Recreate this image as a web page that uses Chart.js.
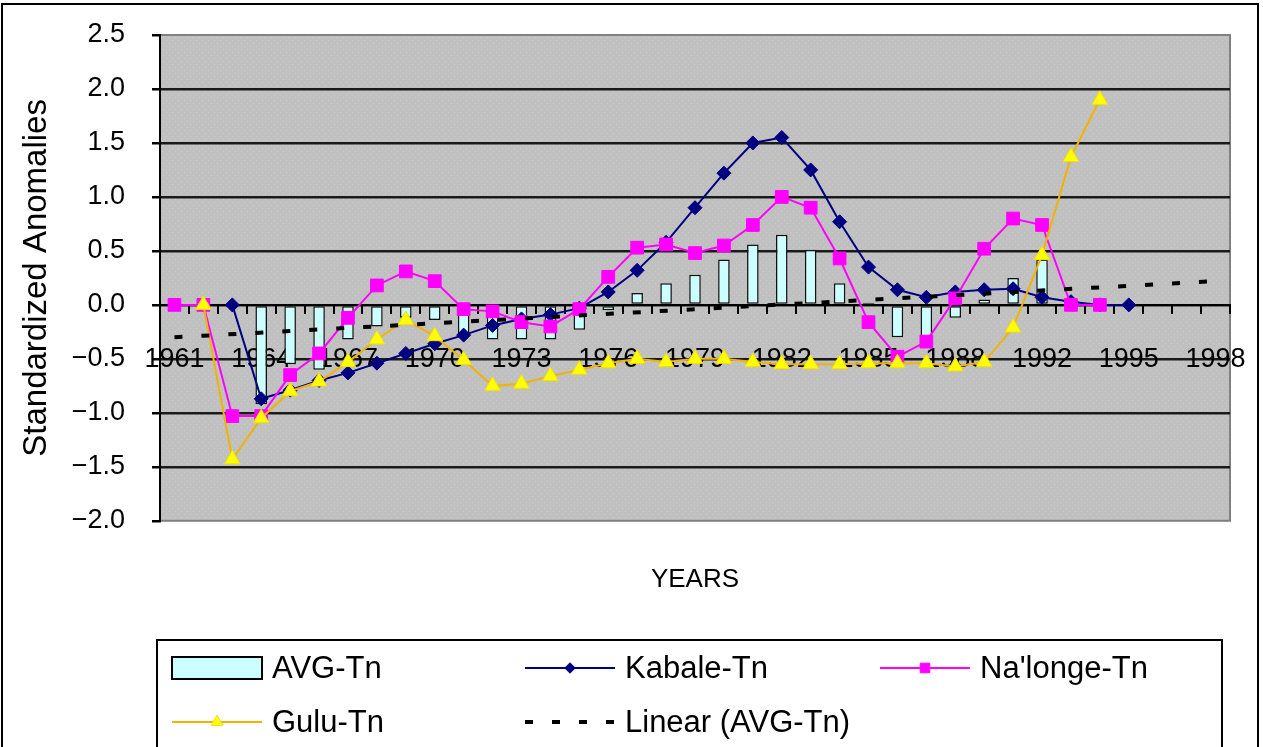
<!DOCTYPE html>
<html>
<head>
<meta charset="utf-8">
<title>Standardized Anomalies - Tn</title>
<script src="https://cdn.jsdelivr.net/npm/chart.js@4.4.1/dist/chart.umd.min.js"></script>
<style>
  html, body { margin: 0; padding: 0; background: #fff; overflow: hidden; }
  #wrap { position: relative; width: 1263px; height: 747px; }
  #frame { position: absolute; left: 1px; top: 3px; width: 1254px; height: 800px; border: 2px solid #000; pointer-events: none; }
  canvas { display: block; }
</style>
</head>
<body>
<div id="wrap">
  <canvas id="chart" width="1263" height="747"></canvas>
  <div id="frame"></div>
</div>
<script>
// Years on the category axis (1990 is not in the series)
const years = [
  '1961', '1962', '1963', '1964', '1965', '1966', '1967', '1968', '1969', '1970',
  '1971', '1972', '1973', '1974', '1975', '1976', '1977', '1978', '1979', '1980',
  '1981', '1982', '1983', '1984', '1985', '1986', '1987', '1988', '1989', '1991',
  '1992', '1993', '1994', '1995', '1996', '1997', '1998'
];

// Standardized anomalies of minimum temperature
const avgTn = [null, null, null, -0.92, -0.55, -0.60, -0.32, -0.20, -0.12, -0.14,
  -0.30, -0.32, -0.32, -0.32, -0.23, -0.05, 0.11, 0.20, 0.28, 0.42,
  0.56, 0.65, 0.51, 0.20, 0.02, -0.30, -0.30, -0.12, 0.05, 0.25,
  0.42, null, null, null, null, null, null];

const kabaleTn = [null, null, 0.00, -0.87, -0.79, -0.70, -0.63, -0.54, -0.45, -0.36,
  -0.28, -0.19, -0.13, -0.09, -0.03, 0.12, 0.32, 0.58, 0.90, 1.22,
  1.50, 1.55, 1.25, 0.77, 0.35, 0.14, 0.07, 0.12, 0.14, 0.15,
  0.07, 0.03, 0.00, 0.00, null, null, null];

const nalongeTn = [0.00, 0.00, -1.03, -1.03, -0.65, -0.45, -0.12, 0.18, 0.31, 0.22,
  -0.04, -0.06, -0.16, -0.20, -0.04, 0.26, 0.53, 0.56, 0.48, 0.55,
  0.74, 1.00, 0.90, 0.43, -0.16, -0.48, -0.34, 0.06, 0.52, 0.80,
  0.74, 0.00, 0.00, null, null, null, null];

const guluTn = [null, 0.00, -1.43, -1.05, -0.80, -0.71, -0.53, -0.32, -0.14, -0.29,
  -0.51, -0.75, -0.73, -0.66, -0.60, -0.54, -0.50, -0.53, -0.50, -0.50,
  -0.53, -0.55, -0.55, -0.55, -0.54, -0.54, -0.54, -0.57, -0.53, -0.21,
  0.46, 1.37, 1.90, null, null, null, null];

// Linear trend of AVG-Tn, its two ends
const trendYears = ['1961', '1998'];
const trendValues = [-0.30, 0.22];

const FONT = '"Liberation Sans", Arial, sans-serif';
Chart.defaults.font.family = FONT;
Chart.defaults.color = '#000';

// grey dotted fill of the plot area
function dottedPattern(ctx) {
  const c = document.createElement('canvas');
  c.width = 6; c.height = 6;
  const p = c.getContext('2d');
  p.fillStyle = '#c0c0c0';
  p.fillRect(0, 0, 6, 6);
  p.fillStyle = '#cdcdcd';
  p.fillRect(1, 1, 1, 1);
  p.fillRect(4, 4, 1, 1);
  return ctx.createPattern(c, 'repeat');
}

const plotBackground = {
  id: 'plotBackground',
  beforeDraw(chart) {
    const { ctx, chartArea: a } = chart;
    ctx.save();
    ctx.fillStyle = dottedPattern(ctx);
    ctx.fillRect(a.left, a.top, a.right - a.left, a.bottom - a.top);
    ctx.strokeStyle = '#808080';
    ctx.lineWidth = 2;
    ctx.strokeRect(a.left, a.top, a.right - a.left, a.bottom - a.top);
    ctx.restore();
  }
};

function drawMarker(ctx, style, x, y, r) {
  ctx.beginPath();
  if (style === 'rectRot') {
    ctx.moveTo(x, y - r); ctx.lineTo(x + r, y); ctx.lineTo(x, y + r); ctx.lineTo(x - r, y);
  } else if (style === 'rect') {
    const h = r * Math.SQRT1_2;
    ctx.rect(x - h, y - h, 2 * h, 2 * h);
  } else if (style === 'triangle') {
    ctx.moveTo(x, y - r);
    ctx.lineTo(x + r * 0.866, y + r / 2);
    ctx.lineTo(x - r * 0.866, y + r / 2);
  }
  ctx.closePath();
  ctx.fill();
  ctx.stroke();
}

// boxed legend, three columns by two rows
const legendGrid = {
  id: 'legendGrid',
  afterDraw(chart) {
    const ctx = chart.ctx;
    const cols = [172, 525, 880];
    const rows = [668, 722];
    ctx.save();
    ctx.strokeStyle = '#000';
    ctx.lineWidth = 2;
    ctx.strokeRect(157, 640, 1065, 160);
    ctx.font = '31px ' + FONT;
    ctx.textBaseline = 'middle';
    ctx.textAlign = 'left';
    chart.data.datasets.forEach((ds, i) => {
      const x = cols[i % 3];
      const y = rows[Math.floor(i / 3)];
      ctx.save();
      if (ds.type === 'bar') {
        ctx.fillStyle = ds.backgroundColor;
        ctx.fillRect(x, y - 11, 90, 22);
        ctx.strokeStyle = '#000';
        ctx.lineWidth = 2;
        ctx.strokeRect(x, y - 11, 90, 22);
      } else {
        ctx.strokeStyle = ds.borderColor;
        ctx.lineWidth = ds.borderWidth;
        ctx.setLineDash(ds.borderDash || []);
        ctx.beginPath();
        ctx.moveTo(x, y);
        ctx.lineTo(x + 90, y);
        ctx.stroke();
        ctx.setLineDash([]);
        if (ds.pointRadius) {
          ctx.fillStyle = ds.pointBackgroundColor;
          ctx.strokeStyle = ds.pointBorderColor;
          ctx.lineWidth = 1;
          drawMarker(ctx, ds.pointStyle, x + 45, y, ds.pointRadius * 0.75);
        }
      }
      ctx.restore();
      ctx.fillStyle = '#000';
      ctx.fillText(ds.label, x + 100, y + 1);
    });
    ctx.restore();
  }
};

const fmtTick = v => (v < 0 ? '\u2212' : '') + Math.abs(v).toFixed(1);

new Chart(document.getElementById('chart'), {
  type: 'bar',
  data: {
    labels: years,
    datasets: [
      {
        type: 'bar', label: 'AVG-Tn', data: avgTn,
        backgroundColor: '#CCFFFF', borderColor: '#111', borderWidth: 1.5,
        borderSkipped: false, barPercentage: 0.4, categoryPercentage: 1, order: 5
      },
      {
        type: 'line', label: 'Kabale-Tn', data: kabaleTn,
        borderColor: '#000080', borderWidth: 2, tension: 0, fill: false,
        pointStyle: 'rectRot', pointRadius: 7,
        pointBackgroundColor: '#000080', pointBorderColor: '#000080', pointBorderWidth: 1, order: 4
      },
      {
        type: 'line', label: "Na'longe-Tn", data: nalongeTn,
        borderColor: '#FF00FF', borderWidth: 2, tension: 0, fill: false,
        pointStyle: 'rect', pointRadius: 9,
        pointBackgroundColor: '#FF00FF', pointBorderColor: '#FF00FF', pointBorderWidth: 1, order: 3
      },
      {
        type: 'line', label: 'Gulu-Tn', data: guluTn,
        borderColor: '#F0B400', borderWidth: 2, tension: 0, fill: false,
        pointStyle: 'triangle', pointRadius: 9,
        pointBackgroundColor: '#FFFF00', pointBorderColor: '#F5E000', pointBorderWidth: 1, order: 2
      },
      {
        type: 'line', label: 'Linear (AVG-Tn)',
        data: trendYears.map((yr, i) => ({ x: yr, y: trendValues[i] })),
        borderColor: '#000', borderWidth: 4, borderDash: [8, 19], fill: false,
        pointRadius: 0, order: 1
      }
    ]
  },
  options: {
    responsive: false,
    animation: false,
    layout: { padding: { top: 35, right: 33, bottom: 120, left: 0 } },
    plugins: {
      legend: { display: false },
      tooltip: { enabled: false },
      title: {
        display: true, text: 'YEARS', position: 'bottom', fullSize: false,
        color: '#000', font: { size: 26, weight: 'normal' },
        padding: { top: 43, bottom: 32 }
      }
    },
    scales: {
      y: {
        min: -2, max: 2.5,
        afterFit: s => { s.width = 160; s.paddingTop = 0; s.paddingBottom = 0; },
        ticks: { stepSize: 0.5, padding: 27, font: { size: 27 }, color: '#000', callback: fmtTick },
        grid: {
          color: c => (c.tick && (c.tick.value === 2.5 || c.tick.value === -2)) ? 'rgba(0,0,0,0)' : '#1a1a1a',
          lineWidth: 2.5, tickLength: 8, tickColor: '#000'
        },
        border: { display: true, color: '#000', width: 2 },
        title: {
          display: true, text: 'Standardized Anomalies', color: '#000',
          font: { size: 33 }, padding: { top: 17, bottom: 0 }
        }
      },
      x: {
        position: { y: 0 },
        offset: true,
        afterFit: s => { s.paddingLeft = 0; s.paddingRight = 0; },
        grid: { offset: true, drawOnChartArea: false, drawTicks: true, tickLength: 8, tickColor: '#000', lineWidth: 2 },
        border: { display: true, color: '#000', width: 2 },
        ticks: {
          autoSkip: false, maxRotation: 0, minRotation: 0, padding: 30,
          font: { size: 27 }, color: '#000',
          callback: function (v, i) { return i % 3 === 0 ? this.getLabelForValue(v) : ''; }
        }
      }
    }
  },
  plugins: [plotBackground, legendGrid]
});
</script>
</body>
</html>
